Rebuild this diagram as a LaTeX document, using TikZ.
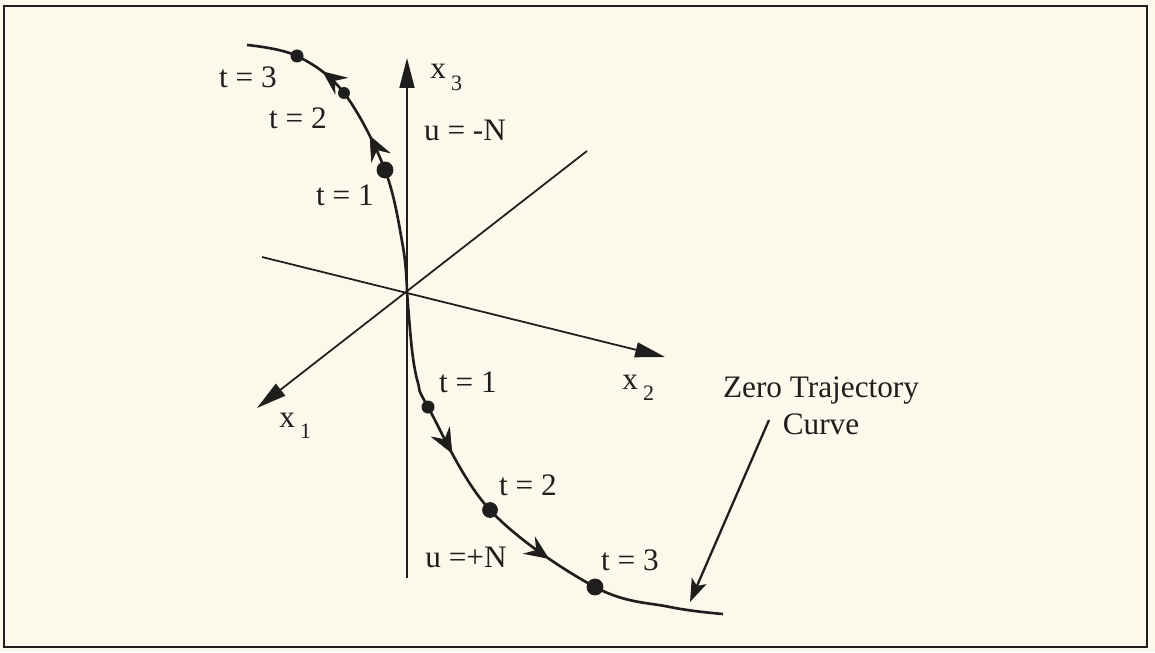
\documentclass[tikz,border=0pt]{standalone}
\usepackage{fontspec}
\setmainfont{Liberation Serif}
\usepackage{tikz}
\usetikzlibrary{arrows.meta,decorations.markings,positioning}
\definecolor{paper}{RGB}{250,249,236}
\definecolor{ink}{RGB}{32,30,28}
\newcommand{\axsub}[1]{\,{\fontsize{12.5pt}{14pt}\selectfont\raisebox{-1.1ex}{#1}}}

\begin{document}
\begin{tikzpicture}[x=0.02cm,y=-0.02cm,
  lbl/.style={inner sep=0pt,text=ink,font=\fontsize{17.8pt}{21pt}\selectfont,align=center},
  axis/.style={draw=ink,line width=1pt},
  axarr/.style={axis,-{Triangle[length=17pt,width=8.5pt]}},
  traj/.style={draw=ink,line width=1.5pt},
  flow/.style={postaction={decorate},decoration={markings,
               mark=at position #1 with {\arrow{Stealth[length=14pt,width=12pt,inset=5pt]}}}},
  dot/.style={circle,fill=ink,inner sep=0pt,minimum size=#1}]
  \fill[paper] (0,0) rectangle (1155,652);
  \draw[ink,line width=1.3pt] (4,6) rectangle (1147,647);
  \useasboundingbox (0,0) rectangle (1155,652);
  \coordinate (O) at (407,292);
  \coordinate (x3tip) at (407,58);
  \coordinate (x3foot) at (407,578);
  \coordinate (x1tip) at (257,408);
  \coordinate (x1back) at (587,151);
  \coordinate (x2tip) at (665,357);
  \coordinate (x2back) at (262,257);
  \draw[axarr] (x3foot) -- (x3tip);
  \draw[axarr] (x1back) -- (x1tip);
  \draw[axarr] (x2back) -- (x2tip);
  \draw[traj,flow=0.50,
        postaction={decorate,decoration={markings,
          mark=at position 0.75 with {\arrow{Stealth[length=14pt,width=12pt,inset=5pt]}}}}]
    plot[smooth,tension=0.6] coordinates {(O) (403,247) (385,170) (344,93) (297,56) (247,45)};
  \draw[traj,flow=0.34,
        postaction={decorate,decoration={markings,
          mark=at position 0.63 with {\arrow{Stealth[length=14pt,width=12pt,inset=5pt]}}}}]
    plot[smooth,tension=0.6] coordinates {(O) (412,350) (418,383) (428,407) (490,510) (595,587) (670,607) (723,614)};
  \node[dot=7.4pt] (u3) at (297,56) {};
  \node[dot=6.8pt] (u2) at (344,93) {};
  \node[dot=9.6pt] (u1) at (385,170) {};
  \node[dot=7.4pt] (d1) at (428,407) {};
  \node[dot=9pt] (d2) at (490,510) {};
  \node[dot=9.6pt] (d3) at (595,587) {};
  \node[lbl] (lu3) at (248,77) {t = 3};
  \node[lbl] (lu2) at (298,118) {t = 2};
  \node[lbl] (lu1) at (345,195) {t = 1};
  \node[lbl] (ld1) at (468,382) {t = 1};
  \node[lbl] (ld2) at (528,485) {t = 2};
  \node[lbl] (ld3) at (630,560) {t = 3};
  \node[lbl] (uneg) at (465,130) {u = -N};
  \node[lbl] (upos) at (466,557) {u =+N};
  \node[lbl,anchor=base west] (x3lbl) at (430,79) {x\axsub{3}};
  \node[lbl,anchor=base west] (x2lbl) at (622,389) {x\axsub{2}};
  \node[lbl,anchor=base west] (x1lbl) at (279,427) {x\axsub{1}};
  \node[lbl] (zlbl) at (821,406) {Zero Trajectory\\Curve};
  \coordinate (ztail) at (769,420);
  \coordinate (zhead) at (690,602);
  \draw[ink,line width=1.3pt,-{Stealth[length=13pt,width=9pt,inset=3pt]}] (ztail) -- (zhead);
\end{tikzpicture}
\end{document}
